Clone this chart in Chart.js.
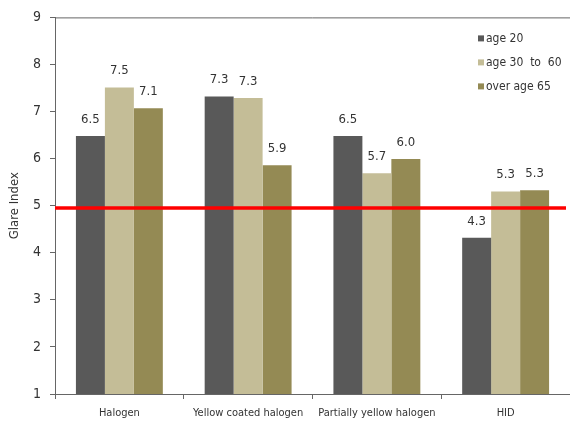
<!DOCTYPE html>
<html>
<head>
<meta charset="utf-8">
<script src="https://cdn.jsdelivr.net/npm/chart.js@4/dist/chart.umd.min.js"></script>
<style>
html,body{margin:0;padding:0;background:#fff;}
#wrap{width:570px;height:423px;position:relative;}
</style>
</head>
<body>
<div id="wrap"><canvas id="c"></canvas></div>
<script>
const categories = ['Halogen', 'Yellow coated halogen', 'Partially yellow halogen', 'HID'];
const seriesNames = ['age 20', 'age 30  to  60', 'over age 65'];
const age20 = [6.48, 7.32, 6.48, 4.32];
const age30to60 = [7.51, 7.29, 5.69, 5.30];
const over65 = [7.07, 5.86, 5.99, 5.33];
const valueLabels = [
  ['6.5', '7.3', '6.5', '4.3'],
  ['7.5', '7.3', '5.7', '5.3'],
  ['7.1', '5.9', '6.0', '5.3']
];
const yTicks = [1, 2, 3, 4, 5, 6, 7, 8, 9];
const threshold = 4.95;
const colors = ['#595959', '#C4BD97', '#948A54'];

const FONT = "'Liberation Sans Narrow', 'DejaVu Sans Condensed', 'Liberation Sans', sans-serif";

const overlay = {
  id: 'overlay',
  afterDatasetsDraw(chart) {
    const ctx = chart.ctx;
    const a = chart.chartArea;
    const y = chart.scales.y;
    ctx.save();
    // top border
    ctx.strokeStyle = '#666';
    ctx.lineWidth = 1;
    ctx.beginPath();
    ctx.moveTo(a.left, a.top + 0.5);
    ctx.lineTo(a.right, a.top + 0.5);
    ctx.stroke();
    // threshold line
    const ty = y.getPixelForValue(threshold);
    ctx.strokeStyle = '#FF0000';
    ctx.lineWidth = 3.5;
    ctx.beginPath();
    ctx.moveTo(a.left, ty);
    ctx.lineTo(a.right - 4, ty);
    ctx.stroke();
    // value labels
    ctx.fillStyle = '#333';
    ctx.font = '13px ' + FONT;
    ctx.textAlign = 'center';
    ctx.textBaseline = 'bottom';
    chart.data.datasets.forEach((ds, di) => {
      const meta = chart.getDatasetMeta(di);
      meta.data.forEach((bar, i) => {
        ctx.fillText(valueLabels[di][i], bar.x, bar.y - 10);
      });
    });
    // legend
    ctx.font = '12px ' + FONT;
    ctx.textAlign = 'left';
    ctx.textBaseline = 'middle';
    const lx = a.right - 92;
    chart.data.datasets.forEach((ds, di) => {
      const ly = a.top + 21 + di * 24;
      ctx.fillStyle = ds.backgroundColor;
      ctx.fillRect(lx, ly - 3, 6, 6);
      ctx.fillStyle = '#333';
      ctx.fillText(ds.label, lx + 8, ly);
    });
    ctx.restore();
  }
};

new Chart(document.getElementById('c'), {
  type: 'bar',
  data: {
    labels: categories,
    datasets: [
      { label: seriesNames[0], data: age20, backgroundColor: colors[0] },
      { label: seriesNames[1], data: age30to60, backgroundColor: colors[1] },
      { label: seriesNames[2], data: over65, backgroundColor: colors[2] }
    ]
  },
  options: {
    responsive: true,
    maintainAspectRatio: false,
    animation: false,
    layout: { padding: { top: 14, right: 0, left: 0, bottom: 0 } },
    datasets: { bar: { categoryPercentage: 0.675, barPercentage: 1.0 } },
    plugins: { legend: { display: false }, tooltip: { enabled: false } },
    scales: {
      x: {
        grid: { display: true, drawOnChartArea: false, drawTicks: true, tickLength: 5, color: '#666', offset: true },
        border: { display: true, color: '#666', width: 1 },
        ticks: { color: '#333', font: { family: FONT, size: 11 }, padding: 8, maxRotation: 0, autoSkip: false },
        afterFit(s) { s.height = 29; }
      },
      y: {
        min: 1, max: 9,
        grid: { display: true, drawOnChartArea: false, drawTicks: true, tickLength: 5, color: '#666' },
        border: { display: true, color: '#666', width: 1 },
        afterBuildTicks(s) { s.ticks = yTicks.map(v => ({ value: v })); },
        ticks: { color: '#333', font: { family: FONT, size: 14 }, padding: 9 },
        title: { display: true, text: 'Glare Index', color: '#333', font: { family: FONT, size: 13 }, padding: { top: 7, bottom: 0 } },
        afterFit(s) { s.width = 55; }
      }
    }
  },
  plugins: [overlay]
});
</script>
</body>
</html>
